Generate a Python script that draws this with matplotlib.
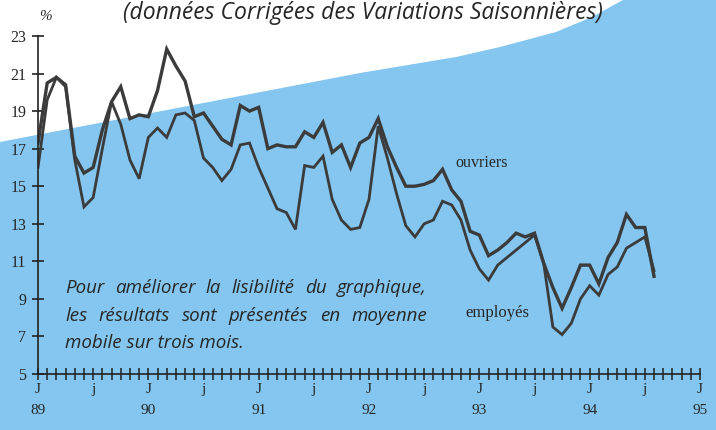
# Taux de chômage ouvriers / employés, moyenne mobile sur 3 mois (1989-1994)

import numpy as np
import matplotlib.pyplot as plt
from matplotlib.patches import Polygon

# mois depuis janvier 1989 (0 = J 89), valeurs en %
ouvriers = [17.3, 20.5, 20.8, 20.4, 16.6, 15.7, 16.0, 18.0, 19.5, 20.3, 18.6, 18.8,
            18.7, 20.1, 22.3, 21.4, 20.6, 18.7, 18.9, 18.2, 17.5, 17.2, 19.3, 19.0,
            19.2, 17.0, 17.2, 17.1, 17.1, 17.9, 17.6, 18.4, 16.8, 17.2, 16.0, 17.3,
            17.6, 18.6, 17.1, 16.0, 15.0, 15.0, 15.1, 15.3, 15.9, 14.8, 14.2, 12.6,
            12.4, 11.3, 11.6, 12.0, 12.5, 12.3, 12.5, 10.9, 9.6, 8.5, 9.6, 10.8,
            10.8, 9.8, 11.2, 12.0, 13.5, 12.8, 12.8, 10.2]
employes = [16.0, 19.6, 20.8, 20.3, 16.4, 13.9, 14.4, 17.0, 19.5, 18.3, 16.4, 15.4,
            17.6, 18.1, 17.6, 18.8, 18.9, 18.5, 16.5, 16.0, 15.3, 15.9, 17.2, 17.3,
            16.0, 14.9, 13.8, 13.6, 12.7, 16.1, 16.0, 16.6, 14.3, 13.2, 12.7, 12.8,
            14.3, 18.2, 16.5, 14.6, 12.9, 12.3, 13.0, 13.2, 14.2, 14.0, 13.2, 11.6,
            10.6, 10.0, 10.8, 11.2, 11.6, 12.0, 12.4, 10.9, 7.5, 7.1, 7.7, 9.0,
            9.7, 9.2, 10.3, 10.7, 11.7, 12.0, 12.3, 10.5]
mois = np.arange(len(ouvriers))

years = ['89', '90', '91', '92', '93', '94', '95']
y_ticks = [5, 7, 9, 11, 13, 15, 17, 19, 21, 23]

note_lines = ["Pour améliorer la lisibilité du graphique,",
              "les résultats sont présentés en moyenne",
              "mobile sur trois mois."]

blue = '#84c6ef'
ink = '#3b3b3b'
txt = '#262626'
W, H = 716, 430

fig = plt.figure(figsize=(W / 100, H / 100), dpi=100, facecolor=blue)

# white curved band in the top-left corner (pixel coords, from top)
edge = [(0, 0), (0, 142), (120, 119), (240, 96), (360, 73), (456, 57),
        (500, 47), (556, 32), (592, 17), (623, 0)]
poly = Polygon([(x / W, 1 - y / H) for x, y in edge], closed=True,
               facecolor='white', edgecolor='none', transform=fig.transFigure, zorder=-1)
fig.add_artist(poly)

ax = fig.add_axes([38 / W, 1 - 374 / H, 662 / W, 338 / H])
ax.set_facecolor('none')

ax.plot(mois, ouvriers, color=ink, lw=2.4, solid_joinstyle='miter')
ax.plot(mois, employes, color=ink, lw=2.0, solid_joinstyle='miter')

ax.set_xlim(0, 72)
ax.set_ylim(5, 23)

for s in ['top', 'right']:
    ax.spines[s].set_visible(False)
for s in ['left', 'bottom']:
    ax.spines[s].set_color('#222222')
    ax.spines[s].set_linewidth(1.2)

# y axis
ax.set_yticks(y_ticks)
ax.set_yticklabels([str(v) for v in y_ticks], fontfamily='Liberation Serif',
                   fontsize=11.5, color=txt)
ax.tick_params(axis='y', direction='inout', length=9, width=1.2, pad=4, color='#222222')

# x axis : monthly ticks, J / j labels
xt = np.arange(0, 73, 6)
xl = []
for m in xt:
    if m % 12 == 0:
        xl.append('J\n' + years[m // 12])
    else:
        xl.append('j')
ax.set_xticks(xt)
ax.set_xticklabels(xl, fontfamily='Liberation Serif', fontsize=11, color=txt, va='top')
for t in ax.get_xticklabels():
    t.set_linespacing(1.75)
ax.set_xticks(np.arange(0, 73, 1), minor=True)
ax.tick_params(axis='x', which='both', direction='inout', length=9, width=1.1,
               pad=2, color='#222222')

fig.text(45 / W, 1 - 17 / H, '%', fontfamily='Liberation Serif', fontstyle='italic',
         fontsize=11, color=txt, ha='center', va='center')

fig.text(363 / W, 1 - 13 / H, '(données Corrigées des Variations Saisonnières)',
         fontfamily='Open Sans', fontstyle='italic', fontsize=16.5, color=txt,
         ha='center', va='center')

ax.text(45.4, 16.25, 'ouvriers', fontfamily='Liberation Serif', fontsize=11.5,
        color=txt, ha='left', va='center')
ax.text(46.5, 8.25, 'employés', fontfamily='Liberation Serif', fontsize=12,
        color=txt, ha='left', va='center')

# note, first two lines justified between x0 and x1
x0, x1 = 65, 427
line_y = [288, 316, 343]
note_kw = dict(fontfamily='Open Sans', fontstyle='italic', fontsize=13.5, color=txt,
               ha='left', va='center')
renderer = fig.canvas.get_renderer()
for k, (line, yy) in enumerate(zip(note_lines, line_y)):
    if k == len(note_lines) - 1:
        fig.text(x0 / W, 1 - yy / H, line, **note_kw)
        continue
    words = line.split(' ')
    arts = [fig.text(0, 1 - yy / H, w_, **note_kw) for w_ in words]
    widths = [a.get_window_extent(renderer).width for a in arts]
    gap = (x1 - x0 - sum(widths)) / (len(words) - 1)
    xp = x0
    for a, wd in zip(arts, widths):
        a.set_x(xp / W)
        xp += wd + gap

fig.savefig('out.png', dpi=100, facecolor=blue)
